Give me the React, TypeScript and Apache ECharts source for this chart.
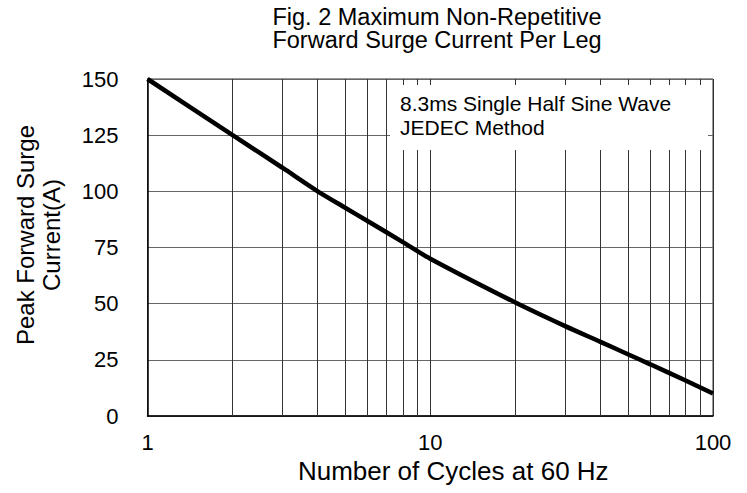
import React, { useEffect, useRef } from "react";
import * as echarts from "echarts";

const cycles = [1, 2, 3, 4, 5, 6, 8, 10, 20, 30, 40, 50, 60, 80, 100];
const current = [150, 125, 110.5, 100, 92.7, 86.8, 77.4, 70, 50.5, 40, 33, 27.5, 23, 15.8, 10];
const minorGridX = [2, 3, 4, 5, 6, 7, 8, 9, 20, 30, 40, 50, 60, 70, 80, 90];
const yTicks = { min: 0, max: 150, interval: 25 };
const titleLines = ["Fig. 2 Maximum Non-Repetitive", "Forward Surge Current Per Leg"];
const noteLines = ["8.3ms Single Half Sine Wave", "JEDEC Method"];
const xName = "Number of Cycles at 60 Hz";
const yNameLines = ["Peak Forward Surge", "Current(A)"];

const FONT = "'Liberation Sans', Arial, sans-serif";

export default function App() {
  const ref = useRef<HTMLDivElement>(null);
  useEffect(() => {
    if (!ref.current) return;
    const chart = echarts.init(ref.current, null, { renderer: "svg" });
    const data = cycles.map((c, i) => [c, current[i]]);
    chart.setOption({
      animation: false,
      backgroundColor: "#fff",
      textStyle: { fontFamily: FONT, color: "#000" },
      grid: {
        left: 147.5,
        right: 34,
        top: 79,
        bottom: 77,
        show: true,
        borderColor: "#333",
        borderWidth: 1,
        containLabel: false,
      },
      xAxis: {
        type: "log",
        logBase: 10,
        min: 1,
        max: 100,
        name: xName,
        nameLocation: "middle",
        nameGap: 36,
        nameTextStyle: { fontSize: 26, color: "#000", fontFamily: FONT, padding: [0, 0, 0, 46] },
        axisLine: { show: true, lineStyle: { color: "#000", width: 1.5 } },
        axisTick: { show: false },
        axisLabel: { fontSize: 22, color: "#000", margin: 15, fontFamily: FONT },
        splitLine: { show: true, lineStyle: { color: "#333", width: 1 } },
      },
      yAxis: {
        type: "value",
        min: yTicks.min,
        max: yTicks.max,
        interval: yTicks.interval,
        axisLine: { show: true, lineStyle: { color: "#000", width: 1.5 } },
        axisTick: { show: false },
        axisLabel: { fontSize: 22, color: "#000", margin: 29, fontFamily: FONT },
        splitLine: { show: true, lineStyle: { color: "#666", width: 1 } },
      },
      series: [
        {
          type: "line",
          data,
          smooth: 0.25,
          showSymbol: false,
          lineStyle: { color: "#000", width: 4.5 },
          z: 5,
          markLine: {
            silent: true,
            symbol: "none",
            label: { show: false },
            lineStyle: { color: "#333", width: 1, type: "solid" },
            data: minorGridX.map((v) => ({ xAxis: v })),
            z: 1,
          },
        },
      ],
      graphic: [
        {
          type: "text",
          x: 437,
          y: 5,
          style: {
            text: titleLines.join("\n"),
            align: "center",
            verticalAlign: "top",
            fontSize: 23.5,
            lineHeight: 23.5,
            fontFamily: FONT,
            fill: "#000",
          },
          z: 10,
        },
        {
          type: "rect",
          shape: { x: 390, y: 85, width: 318, height: 65 },
          style: { fill: "#fff", stroke: "none" },
          z: 10,
        },
        {
          type: "text",
          x: 400,
          y: 91,
          style: {
            text: noteLines.join("\n"),
            fontSize: 21,
            lineHeight: 24,
            fontFamily: FONT,
            fill: "#000",
            align: "left",
            verticalAlign: "top",
          },
          z: 11,
        },
        {
          type: "text",
          x: 38,
          y: 235,
          rotation: Math.PI / 2,
          style: {
            text: yNameLines.join("\n"),
            fontSize: 24,
            lineHeight: 26,
            fontFamily: FONT,
            fill: "#000",
            align: "center",
            verticalAlign: "middle",
          },
          z: 10,
        },
      ],
    });
    return () => chart.dispose();
  }, []);
  return (
    <div
      ref={ref}
      style={{ position: "fixed", left: 0, top: 0, width: 747, height: 493, background: "#fff" }}
    />
  );
}
